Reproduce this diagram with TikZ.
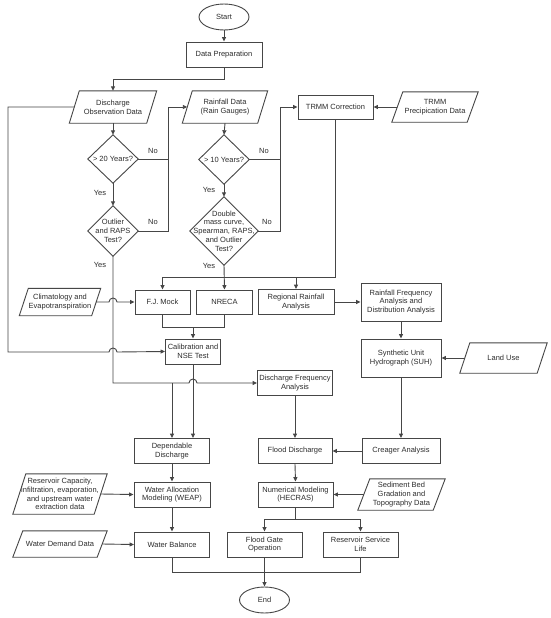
\documentclass[tikz,border=0pt]{standalone}
\usepackage{fontspec}
\setmainfont{Liberation Sans}
\usetikzlibrary{arrows.meta,shapes.geometric,calc}
\definecolor{lc}{RGB}{70,70,70}
\definecolor{tc}{RGB}{45,45,45}
\newcommand\paraoutline[2]{\draw[shapeline] ([xshift=-#2]#1.south west) -- ([xshift=#2]#1.north west) -- ([xshift=#2]#1.north east) -- ([xshift=-#2]#1.south east) -- cycle;}
\newcommand\diaoutline[1]{\draw[shapeline] (#1.north) -- (#1.east) -- (#1.south) -- (#1.west) -- cycle;}
\begin{document}
\begin{tikzpicture}[x=1pt,y=-1pt,
  every node/.style={font=\fontsize{7.5}{8.8}\selectfont, text=tc, align=center, inner sep=0pt},
  shapeline/.style={draw=lc, line width=0.9pt},
  box/.style={rectangle, draw=lc, line width=0.9pt, minimum width=#1, minimum height=25pt},
  box/.default=75pt,
  para/.style={rectangle, minimum width=#1},
  dia/.style={rectangle},
  term/.style={ellipse, draw=lc, line width=0.9pt, minimum width=50pt, minimum height=26pt},
  conn/.style={draw=lc, line width=0.9pt},
  arr/.style={conn, -{Triangle[length=4.5pt,width=4pt]}},
  lbl/.style={font=\fontsize{7.5}{8.8}\selectfont}
]
\fill[white] (0,0) rectangle (550,618);
\useasboundingbox (0,0) rectangle (550,618);

% terminals and boxes
\node[term] (start) at (224,17) {Start};
\node[box=76pt] (dp) at (224,54.5) {Data Preparation};
\node[box=75pt, minimum height=24pt] (trmm) at (335.5,107) {TRMM Correction};
\node[box=55pt, minimum height=24pt] (fj) at (162.5,302) {F.J. Mock};
\node[box=56pt, minimum height=24pt] (nreca) at (224.5,302) {NRECA};
\node[box=76pt] (reg) at (296,302) {Regional Rainfall\\Analysis};
\node[box=80pt, minimum height=38pt] (rfa) at (401,302) {Rainfall Frequency\\Analysis and\\Distribution Analysis};
\node[box=55pt] (cal) at (193,351.5) {Calibration and\\NSE Test};
\node[box=80pt, minimum height=38pt] (suh) at (401,358) {Synthetic Unit\\Hydrograph (SUH)};
\node[box=75pt] (dfa) at (295,383) {Discharge Frequency\\Analysis};
\node[box=75pt] (depd) at (172,451) {Dependable\\Discharge};
\node[box=74pt] (flood) at (295,451) {Flood Discharge};
\node[box=78pt] (creager) at (401,451) {Creager Analysis};
\node[box=76pt] (weap) at (172,494.5) {Water Allocation\\Modeling (WEAP)};
\node[box=75pt] (num) at (295.5,494.5) {Numerical Modeling\\(HECRAS)};
\node[box=75pt] (wb) at (172,544.5) {Water Balance};
\node[box=75pt] (fg) at (264.5,544.5) {Flood Gate\\Operation};
\node[box=75pt] (rsl) at (360.5,544.5) {Reservoir Service\\Life};
\node[term] (end) at (264.5,600) {End};

% parallelograms (data)
\node[para=77pt, minimum height=32pt] (dod) at (113,107) {Discharge\\Observation Data};
\paraoutline{dod}{5pt}
\node[para=75pt, minimum height=32pt] (rain) at (225,107) {Rainfall Data\\(Rain Gauges)};
\paraoutline{rain}{5pt}
\node[para=75pt, minimum height=30pt] (tpd) at (435,107) {TRMM\\Precipication Data};
\paraoutline{tpd}{5.5pt}
\node[para=72pt, minimum height=27pt] (clim) at (60,302) {Climatology and\\Evapotranspiration};
\paraoutline{clim}{4.5pt}
\node[para=77pt, minimum height=30pt] (land) at (503.5,358) {Land Use};
\paraoutline{land}{5pt}
\node[para=81pt, minimum height=40pt] (res) at (60,494) {Reservoir Capacity,\\infiltration, evaporation,\\and upstream water\\extraction data};
\paraoutline{res}{6.5pt}
\node[para=84pt, minimum height=26pt] (wd) at (60,544) {Water Demand Data};
\paraoutline{wd}{5pt}
\node[para=75pt, minimum height=31pt] (sed) at (401.5,494.5) {Sediment Bed\\Gradation and\\Topography Data};
\paraoutline{sed}{6pt}

% decisions
\node[dia, minimum width=50pt, minimum height=48pt] (d20) at (113,159) {> 20 Years?};
\diaoutline{d20}
\node[dia, minimum width=50pt, minimum height=50pt] (outl) at (113,231) {Outlier\\and RAPS\\Test?};
\diaoutline{outl}
\node[dia, minimum width=50pt, minimum height=49pt] (d10) at (224,159.5) {> 10 Years?};
\diaoutline{d10}
\node[dia, minimum width=68pt, minimum height=68pt] (dm) at (224,231) {Double\\mass curve,\\Spearman, RAPS,\\and Outlier\\Test?};
\diaoutline{dm}

% labels
\node[lbl] (no1) at (153,151) {No};
\node[lbl] (no2) at (153,222) {No};
\node[lbl] (no3) at (264,151) {No};
\node[lbl] (no4) at (267,222) {No};
\node[lbl] (yes1) at (100,193) {Yes};
\node[lbl] (yes2) at (100,265) {Yes};
\node[lbl] (yes3) at (209,190) {Yes};
\node[lbl] (yes4) at (209,266) {Yes};

% helper levels
\coordinate (bus) at (0,277);
\coordinate (jn) at (0,327);
\coordinate (spl) at (0,519);
\coordinate (bot) at (0,572);

% connectors
\draw[arr] (start) -- (dp);
\draw[arr] (dp.south) -- (224,79) -| (dod.north);
\draw[arr] (dod.south) -- (d20.north);
\draw[arr] (d20.south) -- (outl.north);
\draw[arr] (d20.east) -- (168,159) |- (rain.west);
\draw[conn] (outl.east) -| (168,159);
\draw[arr] (rain.south) -- (d10.north);
\draw[arr] (d10.south) -- (dm.north);
\draw[arr] (d10.east) -- (280,159.5) |- (trmm.west);
\draw[conn] (dm.east) -| (280,159.5);
\draw[arr] (tpd.west) -- (trmm.east);
\draw[arr] (trmm.south) |- (fj.north |- bus) -- (fj.north);
\draw[arr] (reg.north |- bus) -- (reg.north);
\draw[arr] (dm.south) -- (nreca.north);
\draw[arr] (clim.east) -- (109,302) arc[start angle=180, end angle=0, radius=4pt] -- (fj.west);
\draw[arr] (dod.west) -- (8,107) -- (8,352) -- (109,352) arc[start angle=180, end angle=0, radius=4pt] -- (cal.west);
\draw[conn] (fj.south) |- (nreca.south |- jn) -- (nreca.south);
\draw[arr] (cal.north |- jn) -- (cal.north);
\draw[arr] (outl.south) -- (113,383) -- (189,383) arc[start angle=180, end angle=0, radius=4pt] -- (dfa.west);
\draw[arr] (172,383) -- (depd.north);
\draw[arr] (cal.south) -- (cal.south |- depd.north);
\draw[arr] (reg.east) -- (rfa.west);
\draw[arr] (rfa.south) -- (suh.north);
\draw[arr] (land.west) -- (suh.east);
\draw[arr] (suh.south) -- (creager.north);
\draw[arr] (creager.west) -- (flood.east);
\draw[arr] (dfa.south) -- (flood.north);
\draw[arr] (flood.south) -- (num.north);
\draw[arr] (sed.west) -- (num.east);
\draw[arr] (num.south) |- (fg.north |- spl) -- (fg.north);
\draw[arr] (num.south |- spl) -| (rsl.north);
\draw[arr] (depd.south) -- (weap.north);
\draw[arr] (res.east) -- (weap.west);
\draw[arr] (weap.south) -- (wb.north);
\draw[arr] (wd.east) -- (wb.west);
\draw[conn] (wb.south) |- (rsl.south |- bot) -- (rsl.south);
\draw[arr] (fg.south) -- (end.north);
\end{tikzpicture}
\end{document}
